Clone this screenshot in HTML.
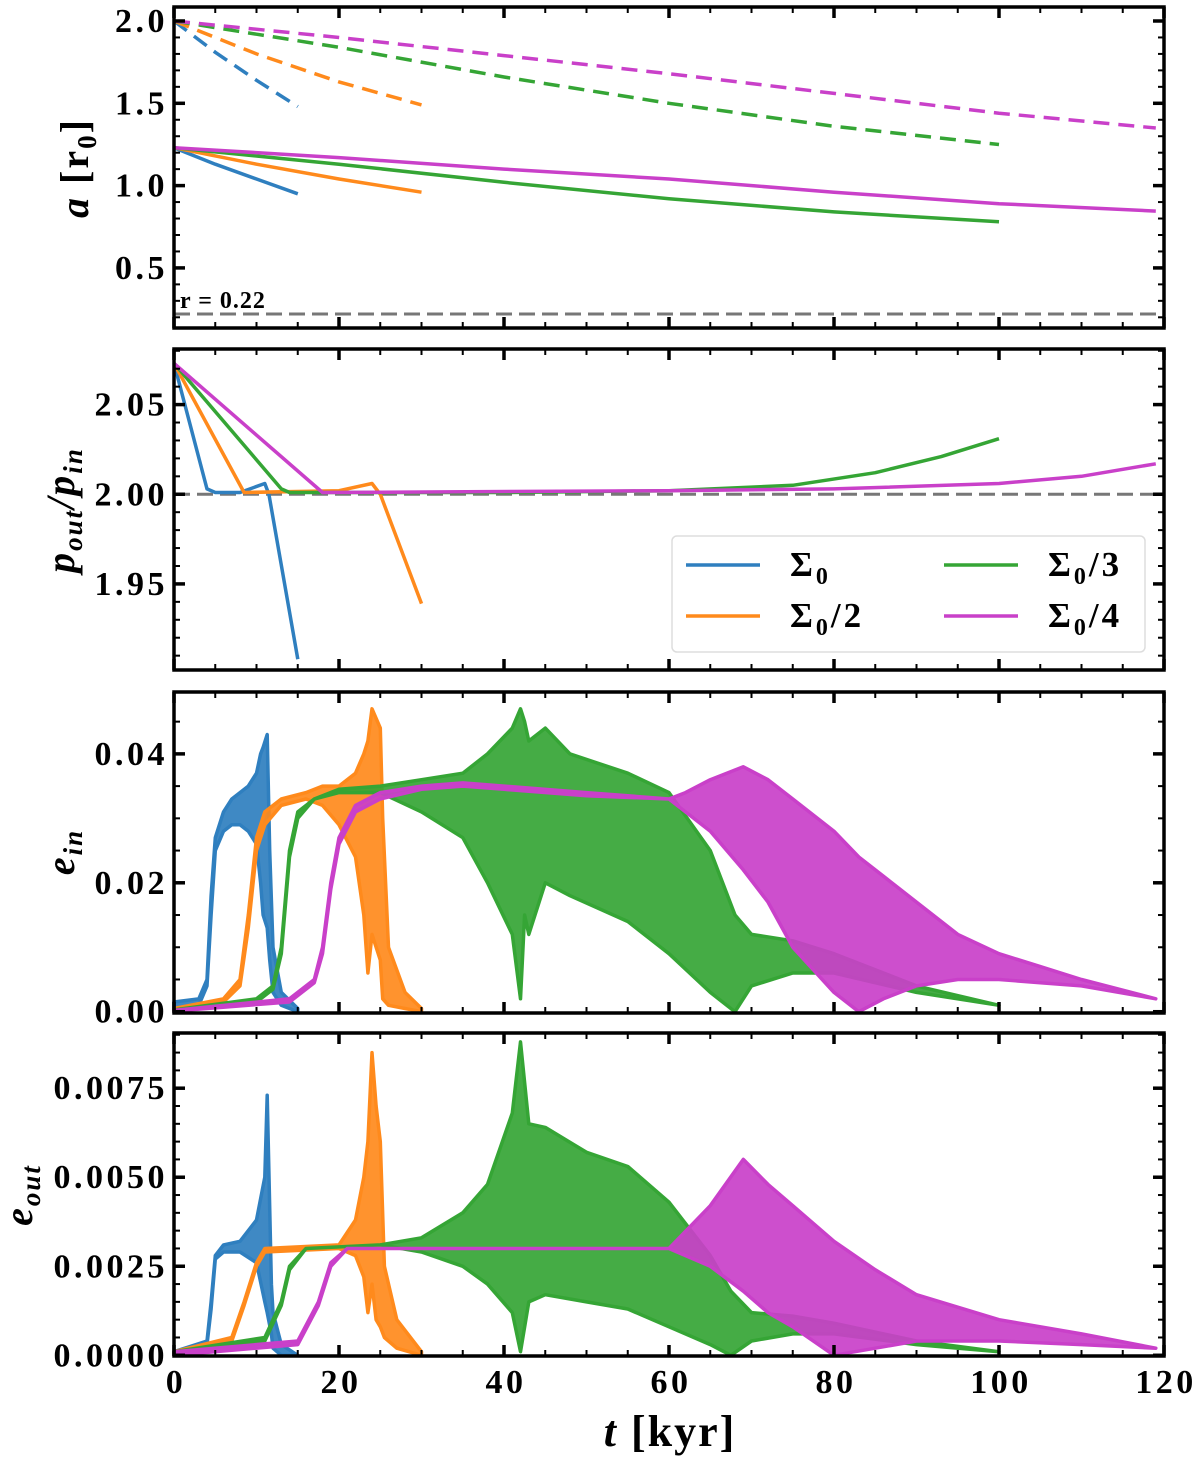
<!DOCTYPE html>
<html><head><meta charset="utf-8"><style>
html,body{margin:0;padding:0;background:#fff;}
svg{display:block;font-family:"Liberation Serif",serif;font-weight:bold;}
</style></head><body>
<svg id="chart" width="1200" height="1461" viewBox="0 0 1200 1461" xmlns="http://www.w3.org/2000/svg"></svg>
<script>
// ---- data ----
const xTicks = [0,20,40,60,80,100,120];
const seriesNames = ["Σ0","Σ0/2","Σ0/3","Σ0/4"];
const colors = ["#2f7fbf","#ff8a1c","#35a535","#c940c9"];
// panel 1: semi-major axis [t, a]
const aInBlue = [[0,1.23],[5,1.13],[10,1.04],[15,0.95]];
const aInOrange = [[0,1.23],[10,1.13],[20,1.04],[30,0.96]];
const aInGreen = [[0,1.23],[10,1.18],[20,1.13],[40,1.02],[60,0.92],[80,0.84],[100,0.78]];
const aInMagenta = [[0,1.23],[20,1.17],[40,1.1],[60,1.04],[80,0.96],[100,0.89],[119,0.845]];
const aOutBlue = [[0,2],[5,1.81],[10,1.64],[15,1.48]];
const aOutOrange = [[0,2],[10,1.8],[20,1.63],[30,1.49]];
const aOutGreen = [[0,2],[10,1.92],[20,1.84],[40,1.66],[60,1.5],[80,1.36],[100,1.25]];
const aOutMagenta = [[0,2],[20,1.9],[40,1.79],[60,1.68],[80,1.56],[100,1.44],[119,1.35]];
// panel 2: period ratio
const prBlue = [[0,2.073],[4,2.003],[5,2.001],[8,2.001],[11,2.006],[11.5,2.0],[15,1.908]];
const prOrange = [[0,2.073],[8.5,2.001],[20,2.002],[24,2.006],[25,2.0],[30,1.939]];
const prGreen = [[0,2.073],[13,2.003],[14,2.001],[40,2.001],[60,2.002],[75,2.005],[85,2.012],[93,2.021],[100,2.031]];
const prMagenta = [[0,2.073],[18,2.001],[60,2.002],[80,2.003],[100,2.006],[110,2.01],[119,2.017]];
// panel 3: e_in envelopes [t, upper, lower]
const einBlue = [[0,0.0015,0.0005],[3,0.002,0.001],[4,0.005,0.004],[4.5,0.018,0.015],[5,0.027,0.025],[6,0.031,0.028],[7,0.033,0.029],[8,0.034,0.029],[9,0.035,0.028],[10,0.037,0.026],[10.5,0.04,0.02],[10.8,0.041,0.015],[11.3,0.043,0.013],[11.6,0.025,0.008],[12,0.01,0.003],[13,0.003,0.001],[15,0.0005,0]];
const einOrange = [[0,0.0005,0.0003],[6,0.002,0.0015],[8,0.005,0.004],[9,0.015,0.013],[10,0.027,0.025],[11,0.031,0.029],[13,0.033,0.032],[16,0.034,0.033],[18,0.035,0.032],[20,0.035,0.029],[22,0.037,0.024],[23,0.04,0.015],[23.5,0.042,0.006],[24,0.047,0.012],[25,0.044,0.008],[25.3,0.03,0.002],[26,0.01,0.001],[28,0.003,0.0005],[30,0.0005,0]];
const einGreen = [[0,0.0003,0.0002],[10,0.002,0.0015],[12,0.004,0.0035],[13,0.01,0.009],[14,0.025,0.024],[15,0.031,0.03],[17,0.033,0.033],[20,0.0345,0.034],[25,0.035,0.034],[30,0.036,0.031],[35,0.037,0.027],[38,0.04,0.02],[41,0.044,0.012],[42,0.047,0.002],[42.5,0.045,0.015],[43,0.042,0.012],[45,0.044,0.02],[48,0.04,0.018],[55,0.037,0.014],[60,0.034,0.009],[65,0.025,0.003],[68,0.015,0],[70,0.012,0.004],[75,0.011,0.006],[80,0.009,0.006],[90,0.004,0.003],[100,0.001,0.001]];
const einMagenta = [[0,0.0002,0.0001],[14,0.002,0.0015],[17,0.005,0.0045],[18,0.01,0.009],[19,0.02,0.019],[20,0.027,0.026],[22,0.032,0.031],[25,0.034,0.033],[30,0.035,0.0345],[35,0.0355,0.035],[40,0.035,0.0345],[50,0.034,0.0335],[60,0.033,0.033],[62,0.034,0.031],[65,0.036,0.028],[69,0.038,0.022],[72,0.036,0.017],[75,0.033,0.01],[80,0.028,0.003],[83,0.024,0],[86,0.021,0.002],[90,0.017,0.004],[95,0.012,0.005],[100,0.009,0.005],[105,0.007,0.0045],[110,0.005,0.004],[119,0.002,0.002]];
// panel 4: e_out envelopes [t, upper, lower]
const eoutBlue = [[0,0.0001,0],[4,0.0004,0.0003],[4.5,0.0015,0.0013],[5,0.0028,0.0027],[6,0.0031,0.0029],[8,0.0032,0.0029],[10,0.0038,0.0026],[11,0.005,0.0015],[11.3,0.0073,0.0012],[11.8,0.002,0.0006],[12,0.0012,0.0002],[13,0.0003,0],[15,0,0]];
const eoutOrange = [[0,0.0001,0],[7,0.0005,0.0004],[8.5,0.0015,0.0014],[10,0.0026,0.0025],[11,0.003,0.0029],[20,0.0031,0.003],[22,0.0038,0.0028],[23,0.005,0.0022],[23.5,0.006,0.0012],[24,0.0085,0.002],[24.5,0.007,0.001],[25,0.006,0.0008],[25.5,0.0025,0.0005],[27,0.001,0.0002],[30,0.0001,0]];
const eoutGreen = [[0,0.0001,0],[11,0.0005,0.0004],[13,0.0015,0.0014],[14,0.0025,0.0024],[16,0.003,0.003],[25,0.0031,0.0031],[30,0.0033,0.0029],[35,0.004,0.0025],[38,0.0048,0.002],[41,0.0068,0.0012],[42,0.0088,0.0001],[43,0.0065,0.0015],[45,0.0064,0.0017],[50,0.0057,0.0015],[55,0.0053,0.0013],[60,0.0043,0.0008],[65,0.0028,0.0003],[67.5,0.0018,0],[70,0.0012,0.0004],[75,0.0011,0.0006],[80,0.0009,0.0006],[90,0.0004,0.0003],[100,0.0001,0.0001]];
const eoutMagenta = [[0,0.0001,0],[15,0.0004,0.0003],[17.5,0.0015,0.0014],[19,0.0026,0.0025],[21,0.003,0.003],[60,0.003,0.003],[65,0.0042,0.0025],[69,0.0055,0.0018],[72,0.0048,0.0012],[75,0.0042,0.0008],[80,0.0032,0],[85,0.0024,0.0002],[90,0.0017,0.0004],[100,0.001,0.0004],[110,0.0006,0.0003],[119,0.0002,0.0002]];

// ---- layout ----
const NS="http://www.w3.org/2000/svg";
const svg=document.getElementById('chart');
const X0=174,X1=1164,XMIN=0,XMAX=120;
const xs=v=>X0+(v-XMIN)/(XMAX-XMIN)*(X1-X0);
const panels=[
 {name:'a-panel',top:7,bot:328,ymin:0.135,ymax:2.085,major:[0.5,1.0,1.5,2.0],fmt:v=>v.toFixed(1),minor:0.1},
 {name:'period-ratio-panel',top:349,bot:670,ymin:1.902,ymax:2.081,major:[1.95,2.00,2.05],fmt:v=>v.toFixed(2),minor:0.01},
 {name:'e-in-panel',top:692,bot:1013,ymin:-0.0002,ymax:0.0496,major:[0,0.02,0.04],fmt:v=>v.toFixed(2),minor:0.005},
 {name:'e-out-panel',top:1033,bot:1356,ymin:-0.00002,ymax:0.00905,major:[0,0.0025,0.005,0.0075],fmt:v=>v.toFixed(4),minor:0.0005}
];
function mk(tag,attrs,parent){const e=document.createElementNS(NS,tag);for(const k in attrs)e.setAttribute(k,attrs[k]);(parent||svg).appendChild(e);return e;}
panels.forEach(p=>{p.ys=v=>p.bot-(v-p.ymin)/(p.ymax-p.ymin)*(p.bot-p.top);});

function line(p,data,color,dash,name){
  const d=data.map((q,i)=>(i?'L':'M')+xs(q[0]).toFixed(1)+','+p.ys(q[1]).toFixed(1)).join('');
  const e=mk('path',{d:d,fill:'none',stroke:color,'stroke-width':3.5,'stroke-dasharray':dash||'none','stroke-linejoin':'round'});
  
  
}
function band(p,data,color,name){
  let d=data.map((q,i)=>(i?'L':'M')+xs(q[0]).toFixed(1)+','+p.ys(q[1]).toFixed(1)).join('');
  for(let i=data.length-1;i>=0;i--)d+='L'+xs(data[i][0]).toFixed(1)+','+p.ys(data[i][2]).toFixed(1);
  d+='Z';
  const e=mk('path',{d:d,fill:color,'fill-opacity':0.92,stroke:color,'stroke-width':3.5,'stroke-linejoin':'round'});
  
  
}

// panel 1
let p=panels[0];
mk('line',{x1:X0,x2:X1,y1:p.ys(0.22),y2:p.ys(0.22),stroke:'#777','stroke-width':3,'stroke-dasharray':'16,7'});
const rl=mk('text',{x:180,y:308,'font-size':24,'letter-spacing':1});rl.textContent='r = 0.22';

[aOutBlue,aOutOrange,aOutGreen,aOutMagenta].forEach((d,i)=>line(p,d,colors[i],'16,9','a-outer-'+i));
[aInBlue,aInOrange,aInGreen,aInMagenta].forEach((d,i)=>line(p,d,colors[i],null,'a-inner-'+i));
// panel 2
p=panels[1];
mk('line',{x1:X0,x2:X1,y1:p.ys(2.0),y2:p.ys(2.0),stroke:'#777','stroke-width':3,'stroke-dasharray':'16,7'});
[prBlue,prOrange,prGreen,prMagenta].forEach((d,i)=>line(p,d,colors[i],null,'period-ratio-'+i));
// panel 3
p=panels[2];
[einBlue,einOrange,einGreen,einMagenta].forEach((d,i)=>band(p,d,colors[i],'e-in-'+i));
// panel 4
p=panels[3];
[eoutBlue,eoutOrange,eoutGreen,eoutMagenta].forEach((d,i)=>band(p,d,colors[i],'e-out-'+i));

// axes and ticks
panels.forEach((p,pi)=>{
  const g=mk('g',{});
  
  
  mk('rect',{x:X0,y:p.top,width:X1-X0,height:p.bot-p.top,fill:'none',stroke:'#000','stroke-width':3.5},g);
  for(let v=0;v<=120.001;v+=5){
    const len=(v%20===0)?11:6,w=(v%20===0)?3.5:2;
    mk('line',{x1:xs(v),x2:xs(v),y1:p.bot,y2:p.bot-len,stroke:'#000','stroke-width':w},g);
    mk('line',{x1:xs(v),x2:xs(v),y1:p.top,y2:p.top+len,stroke:'#000','stroke-width':w},g);
  }
  const n0=Math.ceil(p.ymin/p.minor-1e-6),n1=Math.floor(p.ymax/p.minor+1e-6);
  for(let n=n0;n<=n1;n++){
    const v=n*p.minor,y=p.ys(v);
    const isMaj=p.major.some(m=>Math.abs(m-v)<p.minor/10);
    const len=isMaj?11:6,w=isMaj?3.5:2;
    mk('line',{x1:X0,x2:X0+len,y1:y,y2:y,stroke:'#000','stroke-width':w},g);
    mk('line',{x1:X1,x2:X1-len,y1:y,y2:y,stroke:'#000','stroke-width':w},g);
  }
  p.major.forEach(v=>{
    const t=mk('text',{x:X0-6,y:p.ys(v)+11,'font-size':34,'letter-spacing':3.5,'text-anchor':'end'},g);
    t.textContent=p.fmt(v);
    
  });
});
// x tick labels
xTicks.forEach(v=>{
  const t=mk('text',{x:xs(v)+2,y:1393,'font-size':34,'letter-spacing':3.5,'text-anchor':'middle'});
  t.textContent=v;
  
});
// axis titles
function ytitle(x,y,html,name){
  const t=mk('text',{x:x,y:y,'font-size':40,'letter-spacing':2,'text-anchor':'middle',transform:`rotate(-90 ${x} ${y})`});
  t.innerHTML=html;
  
}
ytitle(88,168,'<tspan font-style="italic">a</tspan> [r<tspan font-size="27" dy="8">0</tspan><tspan dy="-8">]</tspan>','y-axis-title-a');
ytitle(74,510,'<tspan font-style="italic">p<tspan font-size="27" dy="8">out</tspan><tspan dy="-8">/p</tspan><tspan font-size="27" dy="8">in</tspan></tspan>','y-axis-title-period-ratio');
ytitle(74,852,'<tspan font-style="italic">e<tspan font-size="27" dy="8">in</tspan></tspan>','y-axis-title-e-in');
ytitle(32,1195,'<tspan font-style="italic">e<tspan font-size="27" dy="8">out</tspan></tspan>','y-axis-title-e-out');
const xt=mk('text',{x:670,y:1446,'font-size':44,'letter-spacing':2,'text-anchor':'middle'});
xt.innerHTML='<tspan font-style="italic">t</tspan> [kyr]';


// legend
const lg=mk('g',{});


mk('rect',{x:672,y:536,width:473,height:116,rx:5,fill:'#fff','fill-opacity':0.85,stroke:'#ddd','stroke-width':1.5},lg);
const legPos=[[686,565],[686,616],[944,565],[944,616]];
const legLabels=['Σ<tspan font-size="24" dy="8">0</tspan>','Σ<tspan font-size="24" dy="8">0</tspan><tspan dy="-8">/2</tspan>','Σ<tspan font-size="24" dy="8">0</tspan><tspan dy="-8">/3</tspan>','Σ<tspan font-size="24" dy="8">0</tspan><tspan dy="-8">/4</tspan>'];
legPos.forEach((q,i)=>{
  const e=mk('g',{},lg);
  
  
  mk('line',{x1:q[0],x2:q[0]+74,y1:q[1],y2:q[1],stroke:colors[i],'stroke-width':3.5},e);
  const t=mk('text',{x:q[0]+104,y:q[1]+11,'font-size':35,'letter-spacing':3},e);
  t.innerHTML=legLabels[i];
});
</script>
</body></html>
